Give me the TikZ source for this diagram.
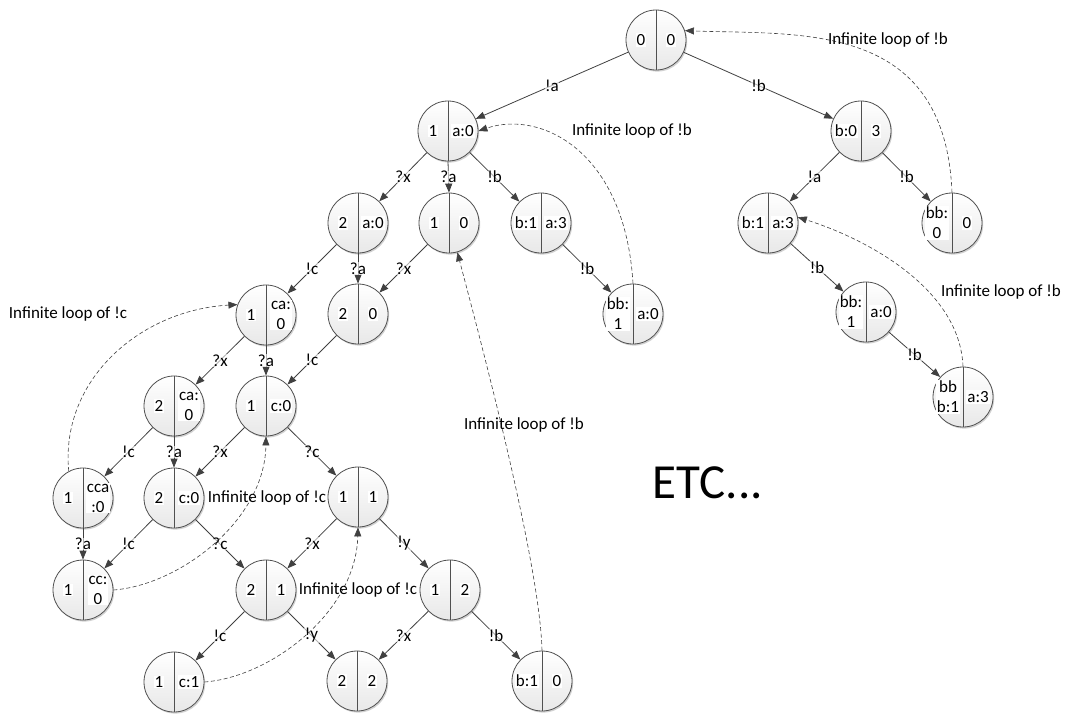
\documentclass[tikz,border=0pt]{standalone}
\usepackage{fontspec}
\setmainfont{Carlito}
\usetikzlibrary{arrows.meta,shadows}

\definecolor{edgegray}{HTML}{404040}
\definecolor{rimgray}{HTML}{505050}

\tikzset{
  sc/.style={circle, minimum size=60pt, inner sep=0pt, draw=rimgray, line width=0.8pt,
    top color=white, bottom color=black!9,
    drop shadow={shadow xshift=1.2pt, shadow yshift=-1.6pt, opacity=0.18, fill=black}},
  divider/.style={draw=rimgray, line width=0.8pt},
  lt/.style={fill=white, inner sep=1pt, align=center, font=\fontsize{17}{20}\selectfont},
  edge/.style={draw=edgegray, line width=0.8pt, -{Triangle[length=9pt,width=7pt]}},
  lbl/.style={font=\fontsize{17}{20}\selectfont, inner sep=0.5pt, fill=white, fill opacity=0.6, text opacity=1},
  loopedge/.style={draw=edgegray, line width=0.6pt, dash pattern=on 4pt off 2.5pt,
    -{Triangle[length=9pt,width=7pt]}},
  looplbl/.style={font=\fontsize{17}{20}\selectfont, inner sep=0pt},
}

% state circle: name, x, y, left text, right text
\newcommand\mkstate[5]{%
  \node[sc] (#1) at (#2,#3) {};
  \draw[divider] (#1.north) -- (#1.south);
  \node[lt] at ([xshift=-15pt]#1.center) {#4};
  \node[lt] at ([xshift=15pt]#1.center) {#5};
}

\begin{document}
\begin{tikzpicture}[x=1pt,y=-1pt]
\useasboundingbox (0,0) rectangle (1065,713);

% states
\mkstate{root}{656}{40}{0}{0}
\mkstate{A}{448}{131}{1}{a:0}
\mkstate{B}{861}{131}{b:0}{3}
\mkstate{Aa}{358}{223}{2}{a:0}
\mkstate{Ab}{449}{223}{1}{0}
\mkstate{Ac}{541}{223}{b:1}{a:3}
\mkstate{Ad}{358}{314}{2}{0}
\mkstate{Ae}{633}{314}{bb:\\1}{a:0}
\mkstate{Ba}{768}{223}{b:1}{a:3}
\mkstate{Bb}{952}{223}{bb:\\0}{0}
\mkstate{Bc}{866}{312}{bb:\\1}{a:0}
\mkstate{Bd}{963}{397}{bb\\b:1}{a:3}
\mkstate{C}{266}{315}{1}{ca:\\0}
\mkstate{D}{266}{406}{1}{c:0}
\mkstate{E}{174}{406}{2}{ca:\\0}
\mkstate{F}{83}{498}{1}{cca\\:0}
\mkstate{G}{174}{498}{2}{c:0}
\mkstate{H}{83}{590}{1}{cc:\\0}
\mkstate{I}{358}{497}{1}{1}
\mkstate{J}{266}{590}{2}{1}
\mkstate{K}{450}{590}{1}{2}
\mkstate{L}{174}{682}{1}{c:1}
\mkstate{M}{357}{681}{2}{2}
\mkstate{N}{542}{681}{b:1}{0}

% transitions
\draw[edge] (root) -- node[lbl]{!a} (A);
\draw[edge] (root) -- node[lbl]{!b} (B);
\draw[edge] (A) -- node[lbl]{?x} (Aa);
\draw[edge] (A.south) -- node[lbl]{?a} (Ab.north);
\draw[edge] (A) -- node[lbl]{!b} (Ac);
\draw[edge] (Aa) -- node[lbl]{!c} (C);
\draw[edge] (Aa.south) -- node[lbl]{?a} (Ad.north);
\draw[edge] (Ab) -- node[lbl]{?x} (Ad);
\draw[edge] (Ac) -- node[lbl]{!b} (Ae);
\draw[edge] (Ad) -- node[lbl]{!c} (D);
\draw[edge] (C) -- node[lbl]{?x} (E);
\draw[edge] (C.south) -- node[lbl]{?a} (D.north);
\draw[edge] (E) -- node[lbl]{!c} (F);
\draw[edge] (E.south) -- node[lbl]{?a} (G.north);
\draw[edge] (D) -- node[lbl]{?x} (G);
\draw[edge] (D) -- node[lbl]{?c} (I);
\draw[edge] (F.south) -- node[lbl]{?a} (H.north);
\draw[edge] (G) -- node[lbl]{!c} (H);
\draw[edge] (G) -- node[lbl]{?c} (J);
\draw[edge] (I) -- node[lbl]{?x} (J);
\draw[edge] (I) -- node[lbl]{!y} (K);
\draw[edge] (J) -- node[lbl]{!c} (L);
\draw[edge] (J) -- node[lbl]{!y} (M);
\draw[edge] (K) -- node[lbl]{?x} (M);
\draw[edge] (K) -- node[lbl]{!b} (N);
\draw[edge] (B) -- node[lbl]{!a} (Ba);
\draw[edge] (B) -- node[lbl]{!b} (Bb);
\draw[edge] (Ba) -- node[lbl]{!b} (Bc);
\draw[edge] (Bc) -- node[lbl]{!b} (Bd);

% loops back
\draw[loopedge] (Bb.north) .. controls (945,20) and (800,35) .. (root.18);
\draw[loopedge] (Ae.north) .. controls (625,150) and (540,110) .. (A.east);
\draw[loopedge] (Bd.north) .. controls (960,290) and (870,240) .. (Ba.11);
\draw[loopedge] (F.118) .. controls (60,380) and (140,310) .. (C.160);
\draw[loopedge] (H.east) .. controls (180,585) and (265,520) .. (D.south);
\draw[loopedge] (L.east) .. controls (271,677) and (356,612) .. (I.south);
\draw[loopedge] (N.north) .. controls (540,560) and (475,320) .. (Ab.-74);

\node[looplbl] (t1) at (888,40) {Infinite loop of !b};
\node[looplbl] (t2) at (632,131) {Infinite loop of !b};
\node[looplbl] (t3) at (1001,292) {Infinite loop of !b};
\node[looplbl] (t4) at (68,314) {Infinite loop of !c};
\node[looplbl] (t5) at (267,498) {Infinite loop of !c};
\node[looplbl] (t6) at (358,590) {Infinite loop of !c};
\node[looplbl] (t7) at (524,425) {Infinite loop of !b};

\node[font=\fontsize{49}{55}\selectfont, inner sep=0pt] (etc) at (708,483) {ETC...};
\end{tikzpicture}
\end{document}
